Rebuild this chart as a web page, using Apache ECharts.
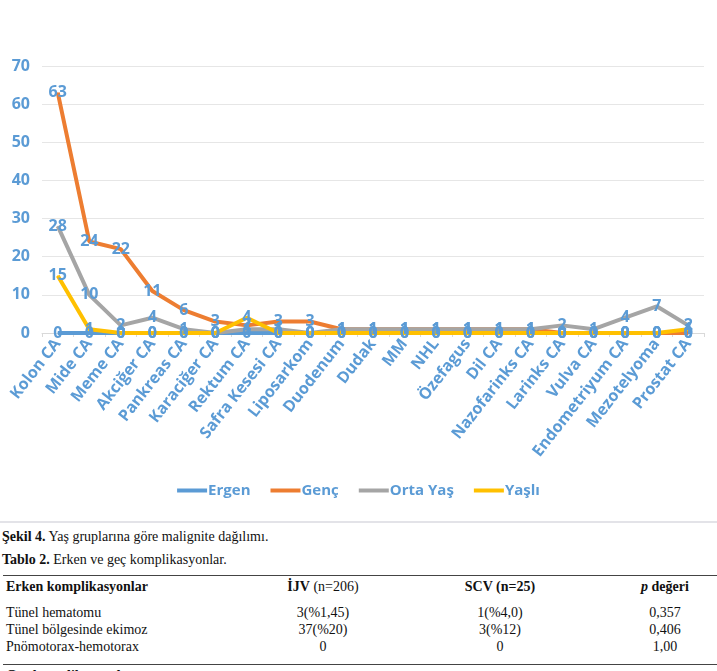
<!DOCTYPE html>
<html>
<head>
<meta charset="utf-8">
<script src="https://cdn.jsdelivr.net/npm/echarts@6/dist/echarts.min.js"></script>
<style>
  body { margin: 0; background: #fff; width: 717px; height: 671px; overflow: hidden; position: relative; }
  #main { position: absolute; left: 0; top: 0; width: 717px; height: 522px; }
  .sep { position: absolute; left: 0; top: 521px; width: 717px; height: 2px; background: #e3e3e8; }
  .txt { position: absolute; font-family: "Liberation Serif", "DejaVu Serif", serif; font-size: 14px; color: #111; white-space: nowrap; }
  .rule { position: absolute; left: 3px; width: 714px; height: 1px; background: #444; }
  .c { text-align: center; width: 160px; }
</style>
</head>
<body>
<div id="main"></div>
<div class="sep"></div>
<div class="txt" style="left:2px;top:529px"><b>Şekil 4.</b> Yaş gruplarına göre malignite dağılımı.</div>
<div class="txt" style="left:2px;top:552px"><b>Tablo 2.</b> Erken ve geç komplikasyonlar.</div>
<div class="rule" style="top:575px"></div>
<div class="txt" style="left:6px;top:579px"><b>Erken komplikasyonlar</b></div>
<div class="txt c" style="left:243px;top:579px"><b>İJV</b> (n=206)</div>
<div class="txt c" style="left:420px;top:579px"><b>SCV (n=25)</b></div>
<div class="txt c" style="left:585px;top:579px"><b><i>p</i> değeri</b></div>
<div class="txt" style="left:6px;top:605px">Tünel hematomu</div>
<div class="txt c" style="left:243px;top:605px">3(%1,45)</div>
<div class="txt c" style="left:420px;top:605px">1(%4,0)</div>
<div class="txt c" style="left:585px;top:605px">0,357</div>
<div class="txt" style="left:6px;top:622px">Tünel bölgesinde ekimoz</div>
<div class="txt c" style="left:243px;top:622px">37(%20)</div>
<div class="txt c" style="left:420px;top:622px">3(%12)</div>
<div class="txt c" style="left:585px;top:622px">0,406</div>
<div class="txt" style="left:6px;top:639px">Pnömotorax-hemotorax</div>
<div class="txt c" style="left:243px;top:639px">0</div>
<div class="txt c" style="left:420px;top:639px">0</div>
<div class="txt c" style="left:585px;top:639px">1,00</div>
<div class="rule" style="top:664px"></div>
<div class="txt" style="left:6px;top:668px"><b>Geç komplikasyonlar</b></div>

<script>
// categories and values
const categories = ['Kolon CA', 'Mide CA', 'Meme CA', 'Akciğer CA', 'Pankreas CA', 'Karaciğer CA', 'Rektum CA',
  'Safra Kesesi CA', 'Liposarkom', 'Duodenum', 'Dudak', 'MM', 'NHL', 'Özefagus', 'Dil CA', 'Nazofarinks CA',
  'Larinks CA', 'Vulva CA', 'Endometriyum CA', 'Mezotelyoma', 'Prostat CA']
const ergen = [0, 0, 0, 0, 0, 0, 0, 0, 0, 0, 0, 0, 0, 0, 0, 0, 0, 0, 0, 0, 0]
const genc = [63, 24, 22, 11, 6, 3, 2, 3, 3, 1, 1, 1, 1, 1, 1, 1, 0, 0, 0, 0, 0]
const ortaYas = [28, 10, 2, 4, 1, 0, 1, 1, 0, 1, 1, 1, 1, 1, 1, 1, 2, 1, 4, 7, 2]
const yasli = [15, 1, 0, 0, 0, 0, 4, 0, 0, 0, 0, 0, 0, 0, 0, 0, 0, 0, 0, 0, 1]
const yTicks = [0, 10, 20, 30, 40, 50, 60, 70]

const blue = '#5b9bd5'
const font = '"Open Sans", sans-serif'

let myChart = echarts.init(document.getElementById('main'))

function mkSeries (name, data, color) {
  return {
    name: name,
    type: 'line',
    data: data,
    symbol: 'circle',
    symbolSize: 1,
    lineStyle: { width: 4, color: color },
    itemStyle: { color: color },
    label: {
      show: true,
      position: 'inside',
      color: blue,
      fontFamily: font,
      fontWeight: 'bold',
      fontSize: 16
    }
  }
}

let option = {
  animation: false,
  color: [blue, '#ed7d31', '#a5a5a5', '#ffc000'],
  grid: { left: 42, right: 13, top: 66, bottom: 189 },
  legend: {
    top: 478,
    left: 'center',
    itemWidth: 30,
    itemHeight: 4,
    itemGap: 20,
    icon: 'rect',
    textStyle: { color: blue, fontFamily: font, fontWeight: 'bold', fontSize: 15, padding: [0, 0, 0, -4] },
    data: ['Ergen', 'Genç', 'Orta Yaş', 'Yaşlı']
  },
  xAxis: {
    type: 'category',
    data: categories,
    boundaryGap: true,
    axisLine: { lineStyle: { color: '#d9d9d9' } },
    axisTick: { show: true, alignWithLabel: false, length: 4, lineStyle: { color: '#d9d9d9' } },
    axisLabel: {
      interval: 0,
      rotate: 52,
      color: blue,
      fontFamily: font,
      fontWeight: 'bold',
      fontSize: 16,
      margin: 8
    }
  },
  yAxis: {
    type: 'value',
    min: yTicks[0],
    max: yTicks[yTicks.length - 1],
    interval: 10,
    axisLine: { show: false },
    axisTick: { show: false },
    splitLine: { lineStyle: { color: '#e6e6e6', width: 1 } },
    axisLabel: { color: blue, fontFamily: font, fontWeight: 'bold', fontSize: 16, margin: 12 }
  },
  series: [
    mkSeries('Ergen', ergen, blue),
    mkSeries('Genç', genc, '#ed7d31'),
    mkSeries('Orta Yaş', ortaYas, '#a5a5a5'),
    mkSeries('Yaşlı', yasli, '#ffc000')
  ]
}
option && myChart.setOption(option)
</script>
</body>
</html>
